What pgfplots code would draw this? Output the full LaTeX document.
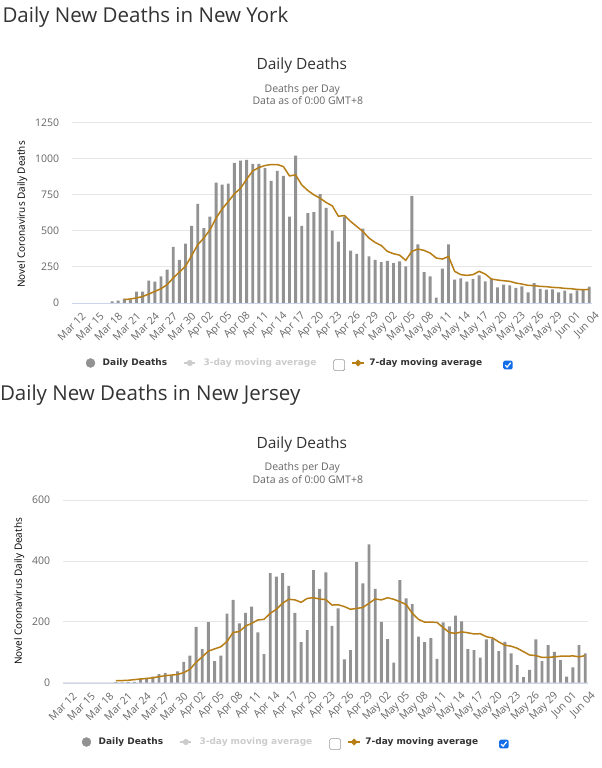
\documentclass[border=0pt]{standalone}
\usepackage{pgfplots}
\usepackage{pgfplotstable}
\pgfplotsset{compat=1.18}
\usepackage{fontspec}
\setmainfont{Open Sans}
\newfontfamily\dvb{DejaVu Sans}
\definecolor{bargray}{RGB}{146,146,146}
\definecolor{macol}{RGB}{184,126,22}
\definecolor{gridc}{RGB}{230,230,230}
\definecolor{labc}{RGB}{102,102,102}
\definecolor{headc}{RGB}{51,51,51}
\definecolor{lgray}{RGB}{204,204,204}
\definecolor{cbblue}{RGB}{18,110,232}
\definecolor{axc}{RGB}{204,214,235}

\newcommand{\emptybox}{\tikz[baseline=0pt]{\draw[gray!80, line width=0.6pt, fill=white, rounded corners=1.5pt] (0,-5pt) rectangle (11pt,6pt);}}
\newcommand{\bluebox}{\tikz[baseline=0pt]{\fill[cbblue, rounded corners=1.5pt] (0,-3.8pt) rectangle (9.5pt,5pt);\draw[white, line width=1.2pt] (2pt,0.6pt) -- (3.9pt,-1.5pt) -- (7.5pt,3pt);}}

\pgfplotstableread{
d v
6 11
7 16
8 30
9 23
10 78
11 78
12 154
13 147
14 184
15 230
16 389
17 299
18 410
19 534
20 686
21 518
22 598
23 833
24 819
25 826
26 969
27 985
28 990
29 962
30 962
31 934
32 845
33 914
34 879
35 598
36 1020
37 534
38 621
39 628
40 753
41 658
42 500
43 424
44 598
45 363
46 340
47 515
48 322
49 299
50 283
51 292
52 276
53 288
54 253
55 741
56 405
57 214
58 184
59 37
60 237
61 405
62 161
63 170
64 147
65 166
66 191
67 150
68 166
69 108
70 127
71 122
72 104
73 115
74 74
75 138
76 97
77 92
78 94
79 74
80 85
81 67
82 87
83 92
84 113
}\nybars

\pgfplotstableread{
d v
8 23
9 28
10 35
11 45
12 62
13 80
14 99
15 127
16 173
17 214
18 253
19 327
20 403
21 449
22 506
23 587
24 651
25 702
26 755
27 794
28 856
29 914
30 937
31 951
32 958
33 958
34 944
35 879
36 886
37 817
38 778
39 748
40 725
41 695
42 672
43 600
44 605
45 564
46 529
47 495
48 449
49 419
50 398
51 357
52 341
53 331
54 295
55 357
56 373
57 364
58 345
59 311
60 304
61 322
62 219
63 196
64 191
65 196
66 219
67 200
68 166
69 159
70 154
71 150
72 138
73 131
74 122
75 120
76 115
77 113
78 108
79 106
80 101
81 99
82 94
83 92
84 94
}\nyma

\pgfplotstableread{
d v
8 2
9 1
10 2
11 3
12 14
13 16
14 20
15 28
16 32
17 24
18 37
19 68
20 89
21 183
22 110
23 199
24 71
25 89
26 227
27 272
28 195
29 229
30 250
31 165
32 94
33 360
34 348
35 360
36 318
37 229
38 133
39 173
40 370
41 308
42 362
43 187
44 244
45 77
46 107
47 396
48 326
49 454
50 308
51 200
52 143
53 66
54 337
55 277
56 258
57 151
58 133
59 146
60 78
61 198
62 185
63 220
64 201
65 110
66 107
67 82
68 142
69 145
70 104
71 134
72 96
73 58
74 18
75 42
76 142
77 71
78 123
79 101
80 74
81 20
82 50
83 123
84 96
}\njbars

\pgfplotstableread{
d v
8 7
9 7
10 8
11 10
12 12
13 14
14 16
15 20
16 23
17 25
18 27
19 33
20 44
21 67
22 85
23 104
24 111
25 118
26 135
27 165
28 168
29 186
30 195
31 206
32 208
33 228
34 241
35 261
36 274
37 272
38 264
39 277
40 279
41 275
42 273
43 255
44 256
45 250
46 241
47 244
48 247
49 261
50 275
51 272
52 279
53 274
54 266
55 257
56 228
57 208
58 199
59 199
60 198
61 181
62 165
63 162
64 167
65 164
66 160
67 161
68 151
69 147
70 134
71 123
72 120
73 113
74 102
75 91
76 89
77 83
78 83
79 85
80 87
81 87
82 88
83 85
84 89
}\njma

\pgfplotsset{
  covid/.style={
    scale only axis,
    xmin=-0.5, xmax=84.5,
    ymin=0,
    axis x line*=bottom,
    axis y line*=left,
    x axis line style={draw=axc},
    y axis line style={draw=none},
    major tick length=0pt,
    ymajorgrids,
    grid style={draw=gridc, line width=0.8pt},
    xtick={0,3,...,84},
    xticklabels={Mar 12,Mar 15,Mar 18,Mar 21,Mar 24,Mar 27,Mar 30,Apr 02,Apr 05,Apr 08,Apr 11,Apr 14,Apr 17,Apr 20,Apr 23,Apr 26,Apr 29,May 02,May 05,May 08,May 11,May 14,May 17,May 20,May 23,May 26,May 29,Jun 01,Jun 04},
    xticklabel style={rotate=45, anchor=east, font=\fontsize{10.5}{10.5}\selectfont, text=labc, inner sep=0pt, yshift=-14pt, xshift=-2pt},
    yticklabel style={anchor=east, font=\fontsize{10.5}{10.5}\selectfont, text=labc, inner sep=0pt, xshift=-13pt},
    /pgf/number format/assume math mode=true,
    /pgf/number format/1000 sep={},
    ylabel={Novel Coronavirus Daily Deaths},
    ylabel style={font=\fontsize{10}{10}\selectfont, text=labc},
    legend columns=3,
    legend cell align=left,
    legend style={draw=none, fill=none, inner sep=0pt, outer sep=0pt, column sep=0pt,
      nodes={inner sep=0pt}, font=\dvb\bfseries\fontsize{9}{9}\selectfont, text=headc},
  },
  lgA/.style={legend image code/.code={\fill[bargray] (0,0) circle (4.5pt); \path (-4.5pt,0) (12pt,0);}},
  lgB/.style={legend image code/.code={\draw[lgray, line width=1.5pt] (-5.5pt,0)--(5.5pt,0); \fill[lgray] (0,0) circle (2.8pt); \path (-22.5pt,0) (13.5pt,0);}},
  lgC/.style={legend image code/.code={\draw[macol, line width=1.5pt] (-6pt,0)--(6pt,0); \fill[macol] (0,-3.2pt)--(3.2pt,0)--(0,3.2pt)--(-3.2pt,0)--cycle; \path (-13pt,0) (11pt,0);}},
}

\begin{document}
\begin{tikzpicture}[x=1pt,y=1pt]
\fill[white] (0,0) rectangle (601,768);

% ---------- New York ----------
\node[anchor=base west, inner sep=0pt, font=\fontsize{20.5}{20.5}\selectfont, text=headc] at (2,745.3) {Daily New Deaths in New York};
\node[anchor=base, inner sep=0pt, font=\fontsize{15.5}{15.5}\selectfont, text=headc] at (301.5,698) {Daily Deaths};
\node[anchor=base, inner sep=0pt, font=\fontsize{10.5}{10.5}\selectfont, text=labc] at (302,675.3) {Deaths per Day};
\node[anchor=base, inner sep=0pt, font=\fontsize{10.5}{10.5}\selectfont, text=labc] at (307.5,663) {Data as of 0:00 GMT+8};

\begin{axis}[covid,
  at={(72pt,465pt)}, anchor=south west,
  width=520pt, height=180.7pt,
  ymax=1250, ytick={0,250,500,750,1000,1250},
  every axis y label/.style={at={(axis description cs:-0.0962,0.49)}, rotate=90, anchor=center},
  legend style={at={(axis description cs:0.026,-0.332)}, anchor=west},
]
\addplot[ybar, bar width=2.9pt, fill=bargray, draw=none, forget plot] table[x=d,y=v] {\nybars};
\addplot[macol, line width=1.5pt, no marks, forget plot] table[x=d,y=v] {\nyma};
\addlegendimage{lgA}
\addlegendentry{Daily Deaths}
\addlegendimage{lgB}
\addlegendentry{\textcolor{lgray}{3-day moving average}\hspace{17pt}\emptybox}
\addlegendimage{lgC}
\addlegendentry{7-day moving average\hspace{21pt}\bluebox}
\end{axis}

% ---------- New Jersey ----------
\node[anchor=base west, inner sep=0pt, font=\fontsize{20.5}{20.5}\selectfont, text=headc] at (-0.5,367) {Daily New Deaths in New Jersey};
\node[anchor=base, inner sep=0pt, font=\fontsize{15.5}{15.5}\selectfont, text=headc] at (301.5,319.7) {Daily Deaths};
\node[anchor=base, inner sep=0pt, font=\fontsize{10.5}{10.5}\selectfont, text=labc] at (302,297) {Deaths per Day};
\node[anchor=base, inner sep=0pt, font=\fontsize{10.5}{10.5}\selectfont, text=labc] at (307.5,284.7) {Data as of 0:00 GMT+8};

\begin{axis}[covid,
  at={(63pt,85.3pt)}, anchor=south west,
  width=525pt, height=182.7pt,
  ymax=600, ytick={0,200,400,600},
  every axis y label/.style={at={(axis description cs:-0.0838,0.5)}, rotate=90, anchor=center},
  legend style={at={(axis description cs:0.0352,-0.3246)}, anchor=west},
]
\addplot[ybar, bar width=2.9pt, fill=bargray, draw=none, forget plot] table[x=d,y=v] {\njbars};
\addplot[macol, line width=1.5pt, no marks, forget plot] table[x=d,y=v] {\njma};
\addlegendimage{lgA}
\addlegendentry{Daily Deaths}
\addlegendimage{lgB}
\addlegendentry{\textcolor{lgray}{3-day moving average}\hspace{17pt}\emptybox}
\addlegendimage{lgC}
\addlegendentry{7-day moving average\hspace{21pt}\bluebox}
\end{axis}
\end{tikzpicture}
\end{document}
